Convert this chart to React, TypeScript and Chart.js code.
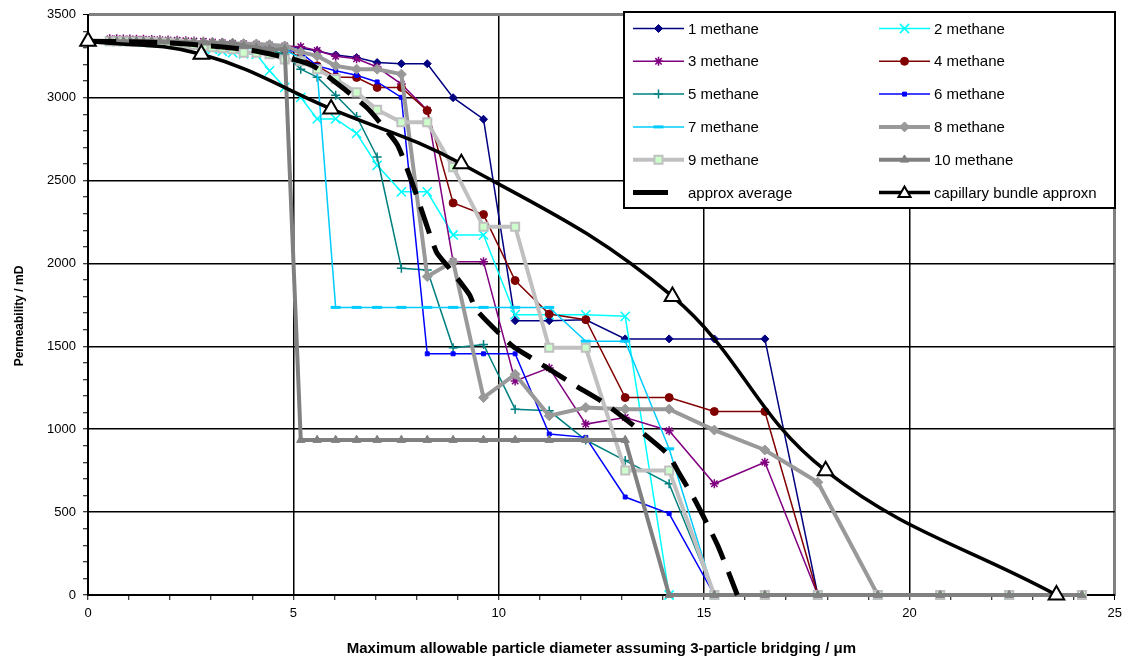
import React, { useEffect, useRef } from 'react';
import { Chart, registerables } from 'chart.js';

Chart.register(...registerables);

const FONT = "'Liberation Sans', Arial, sans-serif";

// shared x values (maximum allowable particle diameter, µm)
const X = [0.53, 0.70, 0.86, 1.02, 1.18, 1.35, 1.55, 1.75, 1.95, 2.17, 2.38, 2.58, 2.81, 3.03, 3.27, 3.52, 3.79, 4.10, 4.42, 4.79,
  5.18, 5.58, 6.03, 6.54, 7.04, 7.63, 8.26, 8.89, 9.63, 10.40, 11.23, 12.12, 13.08, 14.15, 15.25, 16.48, 17.77, 19.23, 20.75, 22.43, 24.20];

const S1 = [3345, 3345, 3345, 3344, 3344, 3343, 3342, 3341, 3340, 3338, 3336, 3334, 3332, 3330, 3327, 3324, 3320, 3316, 3312, 3308,
  3300, 3282, 3258, 3242, 3212, 3205, 3205, 3000, 2870, 1655, 1655, 1660, 1545, 1545, 1545, 1545, 0, 0, 0, 0, 0];
const S2 = [3340, 3340, 3340, 3338, 3336, 3334, 3332, 3330, 3328, 3325, 3320, 3310, 3300, 3292, 3280, 3272, 3265, 3262, 3162, 3062,
  3002, 2872, 2872, 2785, 2592, 2432, 2432, 2172, 2172, 1691, 1690, 1690, 1681, 0, 0, 0, 0, 0, 0, 0, 0];
const S3 = [3355, 3355, 3354, 3354, 3353, 3352, 3351, 3350, 3348, 3346, 3344, 3342, 3340, 3336, 3332, 3328, 3325, 3322, 3318, 3312,
  3308, 3285, 3250, 3235, 3185, 3082, 2925, 2011, 2011, 1291, 1370, 1031, 1071, 991, 671, 801, 0, 0, 0, 0, 0];
const S4 = [3345, 3345, 3344, 3344, 3343, 3342, 3341, 3340, 3338, 3336, 3334, 3331, 3328, 3324, 3320, 3316, 3310, 3304, 3298, 3290,
  3245, 3192, 3125, 3122, 3062, 3062, 2922, 2365, 2295, 1897, 1695, 1661, 1191, 1191, 1107, 1107, 0, 0, 0, 0, 0];
const S5 = [3340, 3340, 3340, 3339, 3338, 3337, 3336, 3334, 3332, 3330, 3327, 3324, 3320, 3316, 3312, 3306, 3300, 3295, 3288, 3262,
  3172, 3124, 3015, 2887, 2642, 1971, 1961, 1491, 1511, 1121, 1111, 935, 811, 671, 0, 0, 0, 0, 0, 0, 0];
const S6 = [3342, 3342, 3341, 3341, 3340, 3339, 3338, 3337, 3335, 3333, 3331, 3328, 3325, 3322, 3318, 3314, 3310, 3305, 3298, 3290,
  3272, 3192, 3162, 3135, 3095, 3002, 1455, 1455, 1455, 1455, 971, 951, 591, 491, 0, 0, 0, 0, 0, 0, 0];
const S7 = [3338, 3338, 3337, 3336, 3335, 3334, 3333, 3331, 3329, 3327, 3324, 3320, 3316, 3312, 3308, 3304, 3300, 3296, 3292, 3285,
  3240, 3160, 1735, 1735, 1735, 1735, 1735, 1735, 1735, 1735, 1735, 1531, 1531, 882, 0, 0, 0, 0, 0, 0, 0];
const S8 = [3342, 3342, 3342, 3341, 3341, 3340, 3340, 3339, 3338, 3337, 3336, 3335, 3334, 3332, 3330, 3328, 3326, 3324, 3320, 3312,
  3275, 3252, 3192, 3172, 3172, 3142, 1921, 2011, 1191, 1331, 1081, 1131, 1121, 1121, 995, 875, 680, 0, 0, 0, 0];
const S9 = [3340, 3340, 3340, 3339, 3338, 3337, 3336, 3334, 3332, 3328, 3324, 3318, 3312, 3305, 3298, 3292, 3272, 3272, 3262, 3230,
  3220, 3172, 3112, 3032, 2927, 2852, 2852, 2581, 2221, 2221, 1491, 1491, 751, 751, 0, 0, 0, 0, 0, 0, 0];
const S10 = [3340, 3340, 3340, 3340, 3340, 3340, 3340, 3340, 3338, 3336, 3335, 3334, 3332, 3332, 3332, 3330, 3312, 3302, 3292, 3292,
  935, 935, 935, 935, 935, 935, 935, 935, 935, 935, 935, 935, 935, 0, 0, 0, 0, 0, 0, 0, 0];

const AVG_X = [0, 1.0, 2.0, 3.0, 4.0, 4.99, 5.48, 6.29, 6.78, 7.10, 7.54, 7.96, 8.48, 8.80, 9.29, 9.45, 10.34, 10.79, 11.43, 11.88, 12.49, 12.93, 14.11, 14.40, 14.76, 15.33, 15.81];
const AVG_Y = [3340, 3338, 3330, 3312, 3285, 3232, 3192, 3042, 2942, 2852, 2712, 2440, 2071, 1971, 1811, 1721, 1501, 1431, 1331, 1261, 1171, 1091, 851, 731, 581, 300, 0];

const CAP_X = [0, 2.76, 5.92, 9.09, 14.23, 17.96, 23.58];
const CAP_Y = [3340, 3262, 2932, 2601, 1801, 750, 0];

const LABELS = ['1 methane', '2 methane', '3 methane', '4 methane', '5 methane', '6 methane', '7 methane', '8 methane', '9 methane', '10 methane', 'approx average', 'capillary bundle approxn'];
const SERIES = [S1, S2, S3, S4, S5, S6, S7, S8, S9, S10];

const X_TITLE = 'Maximum allowable particle diameter assuming 3-particle bridging / \u03BCm';
const Y_TITLE = 'Permeability / mD';

type Sty = { color: string; width: number; point: string; r: number; fill: string; stroke: string; bw: number };
const STYLES: Sty[] = [
  { color: '#000080', width: 1.5, point: 'rectRot', r: 4, fill: '#000080', stroke: '#000080', bw: 1 },
  { color: '#00FFFF', width: 1.5, point: 'crossRot', r: 6.5, fill: '#00FFFF', stroke: '#00FFFF', bw: 1.5 },
  { color: '#800080', width: 1.5, point: 'star', r: 4.5, fill: '#800080', stroke: '#800080', bw: 1.5 },
  { color: '#800000', width: 1.5, point: 'circle', r: 4, fill: '#800000', stroke: '#800000', bw: 1 },
  { color: '#008080', width: 1.5, point: 'cross', r: 4.5, fill: '#008080', stroke: '#008080', bw: 1.5 },
  { color: '#0000FF', width: 1.5, point: 'rect', r: 2.8, fill: '#0000FF', stroke: '#0000FF', bw: 1 },
  { color: '#00CCFF', width: 1.5, point: 'line', r: 5, fill: '#00CCFF', stroke: '#00CCFF', bw: 3 },
  { color: '#999999', width: 4, point: 'rectRot', r: 5, fill: '#999999', stroke: '#999999', bw: 1 },
  { color: '#C0C0C0', width: 4, point: 'rect', r: 5.7, fill: '#CCFFCC', stroke: '#C0C0C0', bw: 2 },
  { color: '#808080', width: 4, point: 'triangle', r: 4.8, fill: '#808080', stroke: '#808080', bw: 1 },
];

function drawMarker(ctx: CanvasRenderingContext2D, s: Sty, x: number, y: number) {
  const r = s.r;
  ctx.save();
  ctx.fillStyle = s.fill;
  ctx.strokeStyle = s.stroke;
  ctx.lineWidth = s.bw;
  ctx.beginPath();
  const d = r * Math.SQRT1_2;
  switch (s.point) {
    case 'rectRot':
      ctx.moveTo(x, y - r); ctx.lineTo(x + r, y); ctx.lineTo(x, y + r); ctx.lineTo(x - r, y); ctx.closePath();
      ctx.fill(); ctx.stroke(); break;
    case 'circle':
      ctx.arc(x, y, r, 0, Math.PI * 2); ctx.fill(); ctx.stroke(); break;
    case 'crossRot':
      ctx.moveTo(x - d, y - d); ctx.lineTo(x + d, y + d); ctx.moveTo(x - d, y + d); ctx.lineTo(x + d, y - d); ctx.stroke(); break;
    case 'cross':
      ctx.moveTo(x - r, y); ctx.lineTo(x + r, y); ctx.moveTo(x, y - r); ctx.lineTo(x, y + r); ctx.stroke(); break;
    case 'star':
      ctx.moveTo(x - r, y); ctx.lineTo(x + r, y); ctx.moveTo(x, y - r); ctx.lineTo(x, y + r);
      ctx.moveTo(x - d, y - d); ctx.lineTo(x + d, y + d); ctx.moveTo(x - d, y + d); ctx.lineTo(x + d, y - d); ctx.stroke(); break;
    case 'rect':
      ctx.rect(x - d, y - d, 2 * d, 2 * d); ctx.fill(); ctx.stroke(); break;
    case 'line':
      ctx.moveTo(x - r, y); ctx.lineTo(x + r, y); ctx.stroke(); break;
    case 'triangle': {
      const a = (2 * Math.PI) / 3;
      ctx.moveTo(x, y - r);
      ctx.lineTo(x + Math.sin(a) * r, y - Math.cos(a) * r);
      ctx.lineTo(x + Math.sin(2 * a) * r, y - Math.cos(2 * a) * r);
      ctx.closePath(); ctx.fill(); ctx.stroke(); break;
    }
  }
  ctx.restore();
}

const CAP_STY: Sty = { color: '#000000', width: 3.5, point: 'triangle', r: 9, fill: '#FFFFFF', stroke: '#000000', bw: 2 };

const overlayPlugin = {
  id: 'overlay',
  afterDraw(chart: any) {
    const ctx: CanvasRenderingContext2D = chart.ctx;
    ctx.save();
    // y title
    ctx.save();
    ctx.translate(20, 316);
    ctx.rotate(-Math.PI / 2);
    ctx.font = `bold 12px ${FONT}`;
    ctx.fillStyle = '#000';
    ctx.textAlign = 'center';
    ctx.textBaseline = 'middle';
    ctx.fillText(Y_TITLE, 0, 0);
    ctx.restore();

    // legend box
    ctx.fillStyle = '#fff';
    ctx.fillRect(624, 12, 491, 196);
    ctx.lineWidth = 2;
    ctx.strokeStyle = '#000';
    ctx.strokeRect(624, 12, 491, 196);
    ctx.font = `15px ${FONT}`;
    ctx.textBaseline = 'middle';
    ctx.textAlign = 'left';
    for (let i = 0; i < 12; i++) {
      const col = i % 2;
      const row = Math.floor(i / 2);
      const y = 28.5 + row * 32.8;
      const x0 = col === 0 ? 633 : 879;
      const x1 = x0 + 51;
      const tx = col === 0 ? 688 : 934;
      ctx.save();
      if (i < 10) {
        const s = STYLES[i];
        ctx.strokeStyle = s.color;
        ctx.lineWidth = s.width;
        ctx.beginPath(); ctx.moveTo(x0, y); ctx.lineTo(x1, y); ctx.stroke();
        drawMarker(ctx, s, (x0 + x1) / 2, y);
      } else if (i === 10) {
        ctx.strokeStyle = '#000';
        ctx.lineWidth = 5;
        ctx.beginPath(); ctx.moveTo(x0, y); ctx.lineTo(x0 + 35, y); ctx.stroke();
      } else {
        ctx.strokeStyle = '#000';
        ctx.lineWidth = 3.5;
        ctx.beginPath(); ctx.moveTo(x0, y); ctx.lineTo(x1, y); ctx.stroke();
        drawMarker(ctx, { ...CAP_STY, r: 7 }, (x0 + x1) / 2, y + 1);
      }
      ctx.restore();
      ctx.fillStyle = '#000';
      ctx.fillText(LABELS[i], tx, y + 1);
    }
    ctx.restore();
  },
};

export default function App() {
  const ref = useRef<HTMLCanvasElement | null>(null);

  useEffect(() => {
    if (!ref.current) return;
    const datasets: any[] = SERIES.map((ys, i) => {
      const s = STYLES[i];
      return {
        label: LABELS[i],
        data: X.map((x, j) => ({ x, y: ys[j] })),
        showLine: true,
        borderColor: s.color,
        borderWidth: s.width,
        pointStyle: s.point,
        pointRadius: s.r,
        pointBackgroundColor: s.fill,
        pointBorderColor: s.stroke,
        pointBorderWidth: s.bw,
        order: 20 - i,
        clip: false,
      };
    });
    datasets.push({
      label: LABELS[10],
      data: AVG_X.map((x, j) => ({ x, y: AVG_Y[j] })),
      showLine: true,
      borderColor: '#000',
      borderWidth: 5,
      borderDash: [28, 13],
      borderCapStyle: 'butt',
      pointRadius: 0,
      tension: 0.2,
      order: 10,
      clip: false,
    });
    datasets.push({
      label: LABELS[11],
      data: CAP_X.map((x, j) => ({ x, y: CAP_Y[j] })),
      showLine: true,
      borderColor: '#000',
      borderWidth: 3.5,
      pointStyle: 'triangle',
      pointRadius: 9,
      pointBackgroundColor: '#FFFFFF',
      pointBorderColor: '#000',
      pointBorderWidth: 2,
      tension: 0.4,
      order: 9,
      clip: false,
    });

    const chart = new Chart(ref.current, {
      type: 'scatter',
      data: { datasets },
      plugins: [overlayPlugin],
      options: {
        animation: false,
        responsive: true,
        maintainAspectRatio: false,
        events: [],
        layout: { padding: { left: 0, right: 12, top: 12, bottom: 0 } },
        plugins: { legend: { display: false }, tooltip: { enabled: false }, title: { display: false } },
        scales: {
          x: {
            type: 'linear',
            min: 0,
            max: 25,
            afterFit: (s: any) => { s.height = 66; },
            ticks: {
              stepSize: 1,
              autoSkip: false,
              maxRotation: 0,
              maxTicksLimit: 1000,
              color: '#000',
              padding: 6,
              font: { family: FONT, size: 13 },
              callback: (v: any) => (Number(v) % 5 === 0 ? String(v) : ''),
            },
            grid: {
              color: (c: any) => {
                const v = c.tick ? c.tick.value : 0;
                if (v === 25) return '#808080';
                if (v === 0) return 'rgba(0,0,0,0)';
                return v % 5 === 0 ? '#000' : 'rgba(0,0,0,0)';
              },
              lineWidth: (c: any) => (c.tick && c.tick.value === 25 ? 3 : 1.5),
              tickColor: '#000',
              tickLength: 5,
              tickWidth: 1,
            },
            border: { color: '#000', width: 2 },
            title: {
              display: true,
              text: X_TITLE,
              color: '#000',
              font: { family: FONT, size: 15, weight: 'bold' },
              padding: { top: 0, bottom: 3 },
            },
          },
          y: {
            type: 'linear',
            min: 0,
            max: 3500,
            afterFit: (s: any) => { s.width = 88; },
            ticks: {
              stepSize: 100,
              autoSkip: false,
              maxTicksLimit: 1000,
              color: '#000',
              padding: 7,
              font: { family: FONT, size: 13 },
              callback: (v: any) => (Number(v) % 500 === 0 ? String(v) : ''),
            },
            grid: {
              color: (c: any) => {
                const v = c.tick ? c.tick.value : 0;
                if (v === 3500) return '#808080';
                if (v === 0) return 'rgba(0,0,0,0)';
                return v % 500 === 0 ? '#000' : 'rgba(0,0,0,0)';
              },
              lineWidth: (c: any) => (c.tick && c.tick.value === 3500 ? 3 : 1.5),
              tickColor: '#000',
              tickLength: 5,
              tickWidth: 1,
            },
            border: { color: '#000', width: 2 },
            title: { display: false },
          },
        },
      } as any,
    });
    return () => chart.destroy();
  }, []);

  return (
    <div style={{ position: 'fixed', left: 0, top: 0, width: 1128, height: 661, background: '#fff' }}>
      <canvas ref={ref} />
    </div>
  );
}
